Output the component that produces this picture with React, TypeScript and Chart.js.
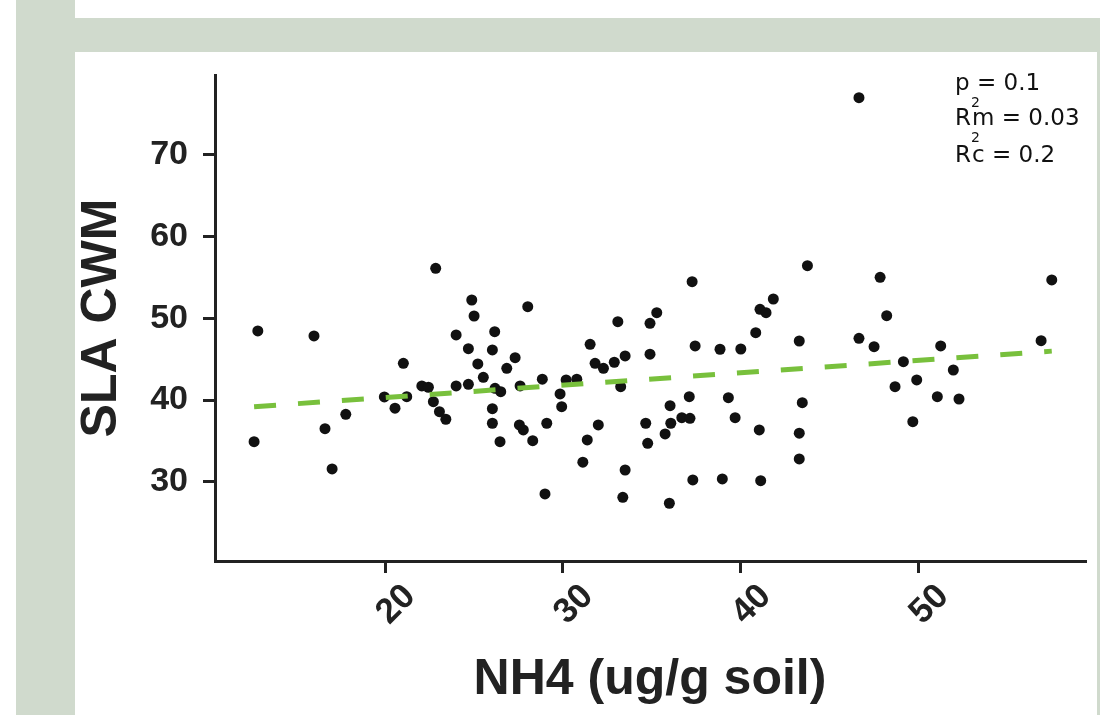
import React, { useEffect, useRef } from "react";
import { Chart, registerables } from "chart.js";

Chart.register(...registerables);

// ---- data ----
const xTicks = [20, 30, 40, 50];
const yTicks = [30, 40, 50, 60, 70];

const nh4 = [
  12.84, 12.63, 16.0, 16.62, 17.02, 17.79, 21.03, 19.96, 20.56, 21.22,
  22.85, 22.07, 22.44, 22.72, 23.06, 23.42, 24.0, 24.88, 25.01, 24.69,
  25.22, 25.53, 24.0, 24.69, 26.17, 26.04, 26.19, 26.04, 26.04, 26.47,
  26.51, 28.03, 27.32, 26.85, 27.6, 28.85, 29.85, 29.94, 30.19, 30.79,
  27.56, 27.78, 28.31, 29.1, 29.0, 31.54, 31.82, 32.29, 32.9, 33.51,
  33.1, 34.91, 35.29, 34.91, 33.26, 32.0, 31.38, 31.13, 33.51, 33.38,
  34.67, 34.78, 36.04, 36.08, 35.76, 36.0, 36.7, 37.16, 37.12, 37.28,
  37.45, 38.85, 40.02, 39.32, 39.7, 37.32, 38.98, 41.06, 41.14, 40.86,
  41.1, 41.44, 41.85, 43.77, 43.31, 43.48, 43.31, 43.31, 47.86, 48.23,
  46.67, 47.52, 49.17, 48.7, 49.92, 49.7, 51.27, 51.98, 51.08, 52.3,
  57.52, 56.92, 46.67,
];

const slaCwm = [
  48.46, 34.91, 47.85, 36.5, 31.57, 38.26, 44.5, 40.38, 39.0, 40.42,
  56.13, 41.73, 41.57, 39.8, 38.58, 37.65, 47.97, 52.25, 50.29, 46.29,
  44.42, 42.79, 41.73, 41.93, 48.37, 46.13, 41.44, 38.95, 37.16, 34.91,
  41.03, 51.43, 45.19, 43.89, 41.73, 42.55, 40.75, 39.19, 42.46, 42.55,
  36.95, 36.34, 35.03, 37.16, 28.51, 46.83, 44.5, 43.89, 44.63, 45.4,
  49.6, 49.4, 50.7, 45.61, 41.64, 36.95, 35.12, 32.39, 31.44, 28.1,
  37.16, 34.71, 39.31, 37.16, 35.85, 27.37, 37.85, 37.77, 40.42, 54.49,
  46.62, 46.22, 46.25, 40.29, 37.85, 30.22, 30.34, 36.34, 30.13, 48.25,
  51.11, 50.7, 52.37, 56.45, 47.23, 39.68, 35.94, 32.79, 55.03, 50.33,
  47.56, 46.54, 44.7, 41.64, 42.46, 37.36, 46.62, 43.68, 40.42, 40.13,
  54.7, 47.27, 77.01,
];

const trendX = [12.63, 57.52];
const trendY = [39.19, 45.99];

const xTitle = "NH4 (ug/g soil)";
const yTitle = "SLA CWM";
const statP = "p = 0.1";
const statRm = ["R", "2", "m = 0.03"];
const statRc = ["R", "2", "c = 0.2"];

const FONT = "'Liberation Sans', Arial, sans-serif";
const AXIS_COLOR = "#222222";

const statsPlugin = {
  id: "statsText",
  afterDraw(chart: any) {
    const { ctx } = chart;
    ctx.save();
    ctx.fillStyle = "#111111";
    ctx.textBaseline = "alphabetic";
    ctx.textAlign = "left";
    const big = "23px 'DejaVu Sans', sans-serif";
    const small = "14px 'DejaVu Sans', sans-serif";
    ctx.font = big;
    ctx.fillText(statP, 955, 90);
    ctx.fillText(statRm[0], 955, 125);
    ctx.fillText(statRm[2], 972, 125);
    ctx.fillText(statRc[0], 955, 162);
    ctx.fillText(statRc[2], 972, 162);
    ctx.font = small;
    ctx.fillText(statRm[1], 971, 107);
    ctx.fillText(statRc[1], 971, 142);
    ctx.restore();
  },
};

export default function App() {
  const canvasRef = useRef<HTMLCanvasElement | null>(null);

  useEffect(() => {
    const canvas = canvasRef.current;
    if (!canvas) return;
    const points = nh4.map((x, i) => ({ x, y: slaCwm[i] }));
    const trend = trendX.map((x, i) => ({ x, y: trendY[i] }));

    const chart = new Chart(canvas, {
      type: "scatter",
      data: {
        datasets: [
          {
            type: "line",
            data: trend,
            borderColor: "#78c03c",
            borderWidth: 5,
            borderDash: [22, 22],
            borderCapStyle: "butt",
            pointRadius: 0,
            fill: false,
            order: 0,
          } as any,
          {
            type: "scatter",
            data: points,
            backgroundColor: "#111111",
            borderWidth: 0,
            pointRadius: 5.5,
            order: 1,
          } as any,
        ],
      },
      options: {
        animation: false,
        responsive: false,
        events: [],
        layout: { padding: { left: 0, top: 75, right: 15, bottom: 0 } },
        plugins: {
          legend: { display: false },
          tooltip: { enabled: false },
        },
        scales: {
          x: {
            type: "linear",
            min: 10.43,
            max: 59.39,
            afterBuildTicks: (s: any) => {
              s.ticks = xTicks.map((v) => ({ value: v }));
            },
            afterFit: (s: any) => {
              s.height = 154;
            },
            border: { display: true, color: AXIS_COLOR, width: 3 },
            grid: {
              drawOnChartArea: false,
              drawTicks: true,
              tickLength: 12,
              color: AXIS_COLOR,
              lineWidth: 3,
            },
            ticks: {
              autoSkip: false,
              minRotation: 45,
              maxRotation: 45,
              labelOffset: 25,
              padding: 3,
              color: AXIS_COLOR,
              font: { family: FONT, size: 35, weight: "bold" },
            },
            title: {
              display: true,
              text: xTitle,
              color: AXIS_COLOR,
              font: { family: FONT, size: 50, weight: "bold" },
              padding: { top: 0, bottom: 5 },
            },
          },
          y: {
            type: "linear",
            min: 20.3,
            max: 79.79,
            afterBuildTicks: (s: any) => {
              s.ticks = yTicks.map((v) => ({ value: v }));
            },
            afterFit: (s: any) => {
              s.width = 215;
            },
            border: { display: true, color: AXIS_COLOR, width: 3 },
            grid: {
              drawOnChartArea: false,
              drawTicks: true,
              tickLength: 12,
              color: AXIS_COLOR,
              lineWidth: 3,
            },
            ticks: {
              padding: 15,
              color: AXIS_COLOR,
              font: { family: FONT, size: 34, weight: "bold" },
            },
            title: {
              display: true,
              text: yTitle,
              color: AXIS_COLOR,
              font: { family: FONT, size: 50, weight: "bold" },
              padding: { top: 72, bottom: 0 },
            },
          },
        },
      },
      plugins: [statsPlugin],
    } as any);

    return () => chart.destroy();
  }, []);

  const green = "#d0dacd";
  return (
    <div
      style={{
        position: "fixed",
        left: 0,
        top: 0,
        width: 1100,
        height: 715,
        background: "#ffffff",
        overflow: "hidden",
      }}
    >
      <div style={{ position: "absolute", left: 16, top: 0, width: 59, height: 715, background: green }} />
      <div style={{ position: "absolute", left: 16, top: 18, width: 1084, height: 34, background: green }} />
      <div style={{ position: "absolute", left: 1097, top: 52, width: 3, height: 663, background: green }} />
      <canvas
        ref={canvasRef}
        width={1100}
        height={715}
        style={{ position: "absolute", left: 0, top: 0, width: 1100, height: 715, display: "block" }}
      />
    </div>
  );
}
